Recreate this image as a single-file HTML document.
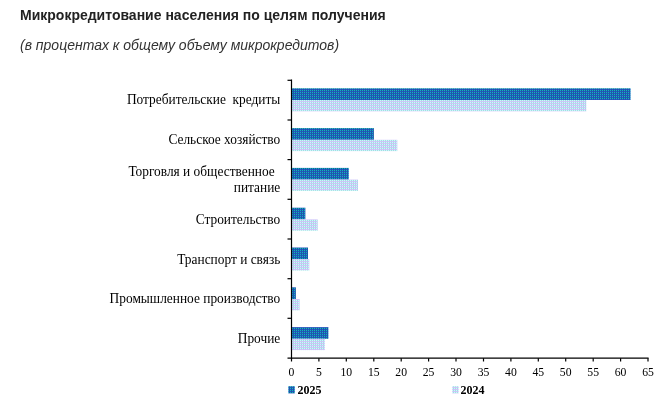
<!DOCTYPE html>
<html lang="ru"><head><meta charset="utf-8">
<style>
html,body{margin:0;padding:0;background:#fff;}
body{width:669px;height:411px;overflow:hidden;position:relative;font-family:"Liberation Sans",sans-serif;color:#222;}
#t{position:absolute;left:20px;top:6px;font-size:14px;font-weight:bold;line-height:18px;white-space:nowrap;color:#222;}
#s{position:absolute;left:20px;top:36px;font-size:14px;font-style:italic;line-height:18px;white-space:nowrap;color:#333;}
svg{position:absolute;left:0;top:0;}
.c{font-family:"Liberation Serif",serif;font-size:14px;fill:#000;}
.n{font-family:"Liberation Serif",serif;font-size:11.7px;fill:#000;text-anchor:middle;}
.l{font-family:"Liberation Serif",serif;font-size:12px;font-weight:bold;fill:#000;}
</style></head><body>
<div id="t">Микрокредитование населения по целям получения</div>
<div id="s">(в процентах к общему объему микрокредитов)</div>
<svg width="669" height="411" viewBox="0 0 669 411">
<defs>
<pattern id="pd" width="2" height="2" patternUnits="userSpaceOnUse"><rect width="1" height="1" fill="#18a8c8"/><rect x="1" width="1" height="1" fill="#106890"/><rect y="1" width="1" height="1" fill="#2858c0"/><rect x="1" y="1" width="1" height="1" fill="#2050b8"/></pattern>
<pattern id="pl" width="2" height="2" patternUnits="userSpaceOnUse"><rect width="1" height="1" fill="#c4fcfc"/><rect x="1" width="1" height="1" fill="#a8d8e0"/><rect y="1" width="1" height="1" fill="#d8c0f8"/><rect x="1" y="1" width="1" height="1" fill="#c4c8f8"/></pattern>
</defs>
<g id="bars">
<rect x="292.0" y="88.3" width="338.6" height="11.7" fill="url(#pd)"/>
<rect x="292.0" y="100.0" width="294.3" height="11.3" fill="url(#pl)"/>
<rect x="292.0" y="128.1" width="81.9" height="11.7" fill="url(#pd)"/>
<rect x="292.0" y="139.8" width="105.3" height="11.3" fill="url(#pl)"/>
<rect x="292.0" y="167.9" width="56.8" height="11.7" fill="url(#pd)"/>
<rect x="292.0" y="179.6" width="66.0" height="11.3" fill="url(#pl)"/>
<rect x="292.0" y="207.7" width="13.4" height="11.7" fill="url(#pd)"/>
<rect x="292.0" y="219.4" width="25.7" height="11.3" fill="url(#pl)"/>
<rect x="292.0" y="247.5" width="16.0" height="11.7" fill="url(#pd)"/>
<rect x="292.0" y="259.2" width="17.3" height="11.3" fill="url(#pl)"/>
<rect x="292.0" y="287.3" width="3.9" height="11.7" fill="url(#pd)"/>
<rect x="292.0" y="299.0" width="7.6" height="11.3" fill="url(#pl)"/>
<rect x="292.0" y="327.1" width="36.4" height="11.7" fill="url(#pd)"/>
<rect x="292.0" y="338.8" width="32.9" height="11.3" fill="url(#pl)"/>
<rect x="288.3" y="386.2" width="6.5" height="7.2" fill="url(#pd)"/>
<rect x="452.2" y="386.2" width="6.5" height="7.2" fill="url(#pl)"/>
</g>
<g id="axes" stroke="#000" stroke-width="1.2" fill="none">
<path d="M291.5 79.6V358.9"/>
<path d="M287.5 358.2H648.6"/>
<path d="M287.5 80.3H291.5"/>
<path d="M287.5 120.0H291.5"/>
<path d="M287.5 159.6H291.5"/>
<path d="M287.5 199.3H291.5"/>
<path d="M287.5 239.0H291.5"/>
<path d="M287.5 278.7H291.5"/>
<path d="M287.5 318.3H291.5"/>
<path d="M291.5 358.2V361.5"/>
<path d="M318.9 358.2V361.5"/>
<path d="M346.3 358.2V361.5"/>
<path d="M373.8 358.2V361.5"/>
<path d="M401.2 358.2V361.5"/>
<path d="M428.6 358.2V361.5"/>
<path d="M456.0 358.2V361.5"/>
<path d="M483.5 358.2V361.5"/>
<path d="M510.9 358.2V361.5"/>
<path d="M538.3 358.2V361.5"/>
<path d="M565.7 358.2V361.5"/>
<path d="M593.2 358.2V361.5"/>
<path d="M620.6 358.2V361.5"/>
<path d="M648.0 358.2V361.5"/>
</g>
<g id="labels">
<text class="c" transform="translate(280.3 104.4) scale(0.957 1)" text-anchor="end" xml:space="preserve">Потребительские  кредиты</text>
<text class="c" transform="translate(280.3 144.2) scale(0.957 1)" text-anchor="end" xml:space="preserve">Сельское хозяйство</text>
<text class="c" transform="translate(274.8 176.0) scale(0.957 1)" text-anchor="end" xml:space="preserve">Торговля и общественное</text>
<text class="c" transform="translate(280.3 191.6) scale(0.957 1)" text-anchor="end" xml:space="preserve">питание</text>
<text class="c" transform="translate(280.3 223.8) scale(0.957 1)" text-anchor="end" xml:space="preserve">Строительство</text>
<text class="c" transform="translate(280.3 263.6) scale(0.957 1)" text-anchor="end" xml:space="preserve">Транспорт и связь</text>
<text class="c" transform="translate(280.3 303.4) scale(0.957 1)" text-anchor="end" xml:space="preserve">Промышленное производство</text>
<text class="c" transform="translate(280.3 343.2) scale(0.957 1)" text-anchor="end" xml:space="preserve">Прочие</text>
<text class="n" x="291.5" y="375.6">0</text>
<text class="n" x="318.9" y="375.6">5</text>
<text class="n" x="346.3" y="375.6">10</text>
<text class="n" x="373.8" y="375.6">15</text>
<text class="n" x="401.2" y="375.6">20</text>
<text class="n" x="428.6" y="375.6">25</text>
<text class="n" x="456.0" y="375.6">30</text>
<text class="n" x="483.5" y="375.6">35</text>
<text class="n" x="510.9" y="375.6">40</text>
<text class="n" x="538.3" y="375.6">45</text>
<text class="n" x="565.7" y="375.6">50</text>
<text class="n" x="593.2" y="375.6">55</text>
<text class="n" x="620.6" y="375.6">60</text>
<text class="n" x="648.0" y="375.6">65</text>
<text class="l" x="297.5" y="394">2025</text>
<text class="l" x="460.5" y="394">2024</text>
</g>
</svg>
</body></html>
